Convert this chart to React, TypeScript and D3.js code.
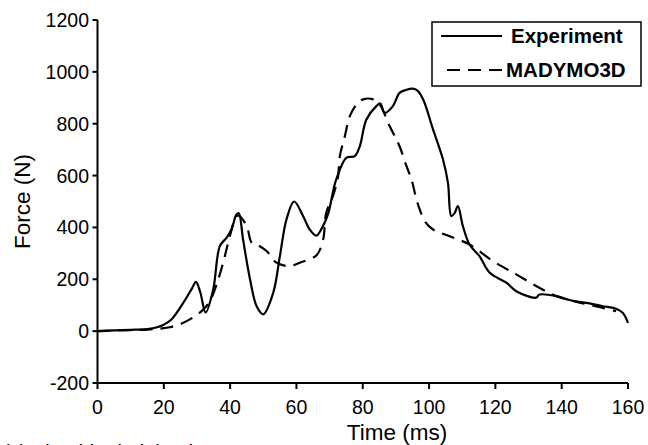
import React from "react";
import * as d3 from "d3";

const xTicks = [0, 20, 40, 60, 80, 100, 120, 140, 160];
const yTicks = [-200, 0, 200, 400, 600, 800, 1000, 1200];

const expT = [0, 5, 10, 15, 18, 20, 22.3, 25.9, 28.5, 29.7, 31, 32.6, 34.9, 36.9, 38.9, 40.4, 41.9, 42.6, 43.9, 46, 48, 50, 53, 55, 57, 59.3, 62, 64, 66, 68, 69.5, 72, 75.1, 77.6, 79.1, 81.1, 84.1, 85.3, 86.6, 89.1, 91.1, 93, 95.1, 96.5, 98.2, 101.2, 104.2, 105.7, 106.7, 107.7, 108.7, 110.2, 112.2, 115.2, 118.3, 123.3, 126.3, 132.3, 133.3, 138.4, 142.4, 148.4, 152.4, 156, 158.4, 160];
const expF = [0, 3, 5, 8, 15, 25, 45, 110, 165, 190, 150, 72, 161, 328, 360, 392, 450, 455, 354, 200, 96, 65, 148, 289, 431, 500, 444, 392, 368, 405, 450, 585, 669, 675, 713, 816, 868, 878, 842, 868, 919, 930, 935, 928, 894, 778, 662, 572, 444, 455, 482, 405, 334, 289, 225, 187, 154, 129, 141, 135, 120, 107, 96, 88, 71, 32];

const simT = [0, 5, 10, 15, 19, 21.8, 25.9, 31.4, 33.9, 36.4, 38.4, 39.9, 41.9, 42.7, 45, 46.5, 48, 51, 54, 58, 61, 66, 68, 69, 71, 72.5, 73.1, 74.6, 76.1, 78.1, 80.1, 83.1, 85.1, 88.1, 91.1, 93.2, 94.7, 96.2, 97.2, 98.7, 101.2, 106.2, 112.2, 119.3, 126.3, 132.3, 138.4, 145.4, 152.4, 156.4];
const simF = [0, 2, 4, 6, 10, 15, 32, 77, 116, 199, 289, 366, 443, 445, 405, 341, 334, 309, 264, 251, 264, 292, 350, 457, 521, 592, 675, 752, 829, 874, 894, 894, 874, 791, 713, 636, 585, 508, 469, 424, 392, 366, 334, 270, 219, 174, 135, 110, 90, 77];

const seriesNames = ["Experiment", "MADYMO3D"];

const FONT = "'Liberation Sans', Arial, Helvetica, sans-serif";

export default function App() {
  const x = d3.scaleLinear().domain([0, 160]).range([97.5, 628]);
  const y = d3.scaleLinear().domain([-200, 1200]).range([383, 20]);

  const mk = (ts: number[], fs: number[]) =>
    d3
      .line<[number, number]>()
      .x((d) => x(d[0]))
      .y((d) => y(d[1]))
      .curve(d3.curveCatmullRom.alpha(0.5))(ts.map((t, i) => [t, fs[i]] as [number, number])) || "";

  const expPath = mk(expT, expF);
  const simPath = mk(simT, simF);

  return (
    <svg width={648} height={445} style={{ position: "absolute", left: 0, top: 0, background: "#fff" }}>
      <rect x={0} y={0} width={648} height={445} fill="#fff" />
      {/* axes */}
      <line x1={x(0)} x2={x(0)} y1={y(1200)} y2={y(-200)} stroke="#000" strokeWidth={2} />
      <line x1={x(0)} x2={x(160)} y1={y(-200)} y2={y(-200)} stroke="#000" strokeWidth={2} />
      {yTicks.map((t) => (
        <g key={"y" + t}>
          <line x1={x(0) - 5} x2={x(0)} y1={y(t)} y2={y(t)} stroke="#000" strokeWidth={2} />
          <text x={89} y={y(t) + 7} textAnchor="end" fontFamily={FONT} fontSize={19.5}>
            {t}
          </text>
        </g>
      ))}
      {xTicks.map((t) => (
        <g key={"x" + t}>
          <line x1={x(t)} x2={x(t)} y1={y(-200)} y2={y(-200) + 6} stroke="#000" strokeWidth={2} />
          <text x={x(t)} y={414} textAnchor="middle" fontFamily={FONT} fontSize={19.5}>
            {t}
          </text>
        </g>
      ))}
      <text x={397} y={440} textAnchor="middle" fontFamily={FONT} fontSize={22.5}>
        Time (ms)
      </text>
      <text
        transform={`translate(30, ${y(500)}) rotate(-90)`}
        textAnchor="middle"
        fontFamily={FONT}
        fontSize={22.5}
      >
        Force (N)
      </text>
      {/* series */}
      <path d={simPath} fill="none" stroke="#000" strokeWidth={2.2} strokeDasharray="13,8" />
      <path d={expPath} fill="none" stroke="#000" strokeWidth={2.2} />
      {/* legend */}
      <rect x={432} y={22} width={209} height={64} fill="#fff" stroke="#000" strokeWidth={1.5} />
      <line x1={441} x2={502} y1={36} y2={36} stroke="#000" strokeWidth={2.2} />
      <line x1={447} x2={503} y1={70} y2={70} stroke="#000" strokeWidth={2.2} strokeDasharray="13,8" />
      <text x={511} y={43} fontFamily={FONT} fontSize={20.5} fontWeight="bold">
        {seriesNames[0]}
      </text>
      <text x={506} y={77} fontFamily={FONT} fontSize={20.5} fontWeight="bold">
        {seriesNames[1]}
      </text>
      {/* caption, cut off at bottom as in the reference */}
      <text x={3} y={459} fontFamily={FONT} fontSize={20}>
        (c) Shoulder belt load
      </text>
    </svg>
  );
}
